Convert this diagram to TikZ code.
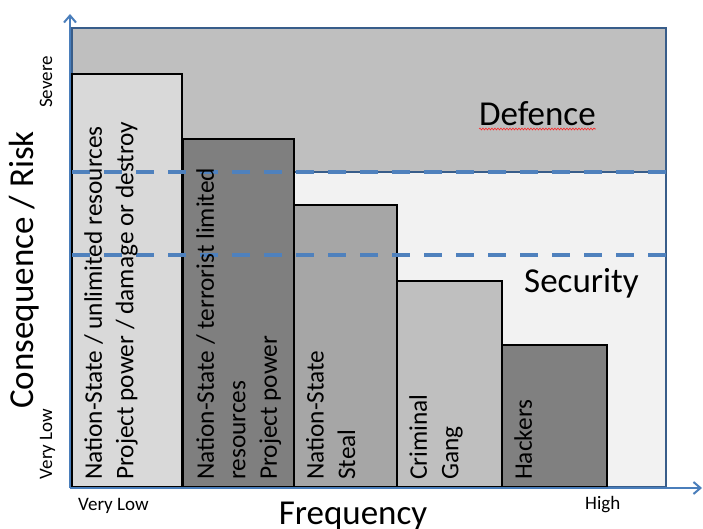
\documentclass[tikz,border=0pt]{standalone}
\usepackage{fontspec}
\setmainfont{Carlito}
\usetikzlibrary{arrows.meta,decorations.pathmorphing}

\definecolor{axisblue}{HTML}{4A7EBB}
\definecolor{frameblue}{HTML}{385D8A}
\definecolor{dashblue}{HTML}{4F81BD}
\definecolor{defgray}{HTML}{BFBFBF}
\definecolor{secgray}{HTML}{F2F2F2}
\definecolor{barA}{HTML}{D9D9D9}
\definecolor{barB}{HTML}{7F7F7F}
\definecolor{barC}{HTML}{A6A6A6}
\definecolor{barD}{HTML}{BFBFBF}
\definecolor{barE}{HTML}{808080}

\tikzset{
  zone/.style={draw=frameblue, line width=1.5},
  bar/.style={draw=black, line width=1.5, anchor=south west, inner sep=0, outer sep=0},
  bartext/.style={rotate=90, anchor=north west, inner sep=0, align=left,
    font=\fontsize{25.3}{31.5}\selectfont},
  biglabel/.style={inner sep=0, font=\fontsize{35}{42}\selectfont},
  smalllabel/.style={inner sep=0, font=\fontsize{19}{23}\selectfont},
  axis/.style={draw=axisblue, line width=2, -{Straight Barb[length=7, width=12, line width=2]}},
  bandline/.style={draw=dashblue, line width=3.5, dash pattern=on 18 off 14},
}

\begin{document}
\begin{tikzpicture}[x=1pt, y=-1pt]
\useasboundingbox (0,0) rectangle (703,529);

% defence and security bands
\path[zone, fill=defgray] (72,28) rectangle (666,172);
\path[zone, fill=secgray] (72,172) rectangle (666,487);

% threat actor bars
\node[bar, fill=barA, minimum width=110, minimum height=413] (b1) at (72,487) {};
\node[bar, fill=barB, minimum width=111, minimum height=348] (b2) at (183,487) {};
\node[bar, fill=barC, minimum width=103, minimum height=282] (b3) at (294,487) {};
\node[bar, fill=barD, minimum width=105, minimum height=206] (b4) at (397,487) {};
\node[bar, fill=barE, minimum width=105, minimum height=142] (b5) at (502,487) {};

% band boundaries
\coordinate (d1a) at (72,172);  \coordinate (d1b) at (666,172);
\coordinate (d2a) at (72,255);  \coordinate (d2b) at (666,255);
\path[bandline] (d1a) -- (d1b);
\path[bandline] (d2a) -- (d2b);

% bar captions
\node[bartext] (t1) at (84,480) {Nation-State / unlimited resources\\Project power / damage or destroy};
\node[bartext] (t2) at (196,480) {Nation-State / terrorist limited\\resources\\Project power};
\node[bartext] (t3) at (306,480) {Nation-State\\Steal};
\node[bartext] (t4) at (409,480) {Criminal\\Gang};
\node[bartext] (t5) at (514,480) {Hackers};

% band names
\node[biglabel, anchor=base west] (def) at (479,126) {Defence};
\draw[red!85!white, line width=0.6, decorate,
  decoration={snake, amplitude=0.9, segment length=3}]
  (def.base west) ++(0,3) coordinate (sq1) -- (def.base east |- sq1);
\node[biglabel, anchor=base west] (sec) at (524,292) {Security};

% axes
\coordinate (origin) at (70,488);
\coordinate (ytip) at (70,14);
\coordinate (xtip) at (702,488);
\path[axis] (origin) -- (ytip);
\path[axis] (origin) -- (xtip);

% axis titles and scale ends
\node[biglabel, rotate=90, anchor=base] (ylab) at (33,270) {Consequence / Risk};
\node[biglabel, anchor=base] (xlab) at (353,524) {Frequency};
\node[smalllabel, rotate=90, anchor=base] (ysev) at (52,82) {Severe};
\node[smalllabel, rotate=90, anchor=base] (ylow) at (52,444) {Very Low};
\node[smalllabel, anchor=base west] (xlow) at (78,510) {Very Low};
\node[smalllabel, anchor=base west] (xhigh) at (585,509) {High};
\end{tikzpicture}
\end{document}
